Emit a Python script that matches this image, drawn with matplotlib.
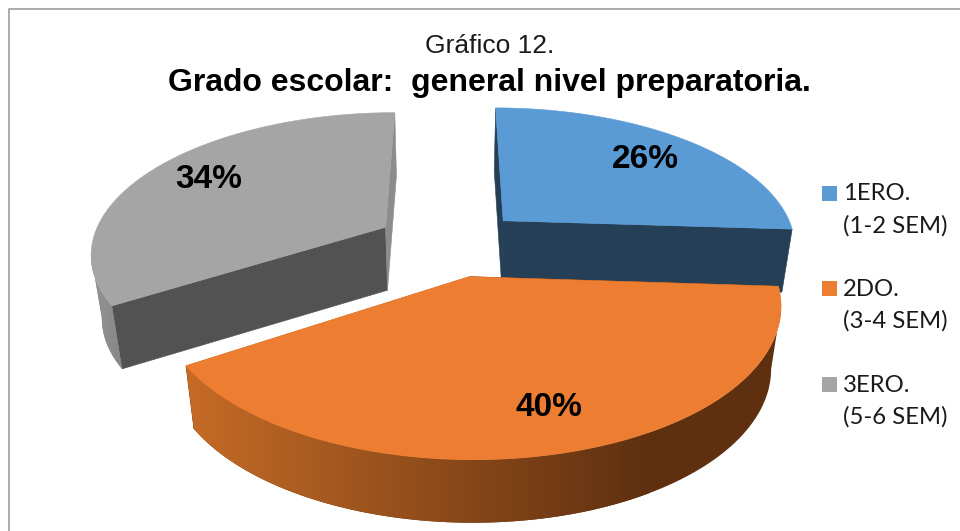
import numpy as np
import matplotlib
matplotlib.use('Agg')
import matplotlib.pyplot as plt
from matplotlib.patches import Polygon, Rectangle
from matplotlib.colors import LinearSegmentedColormap

title_top = 'Gráfico 12.'
title_main = 'Grado escolar:  general nivel preparatoria.'
labels = ['1ERO.\n(1-2 SEM)', '2DO.\n(3-4 SEM)', '3ERO.\n(5-6 SEM)']
shares = [26, 40, 34]
colors = ['#5B9BD5', '#EC7D31', '#A5A5A5']

# projection of the tilted pie, in pixels
CX, CY = 450, 243
RX, RY = 294, 139
PERSP = 0.17
EXPLODE_X = 0.255
EXPLODE_Y = 0.24
DEPTH = 63
SHRINK = 0.03


def project(u, v, down=False):
	s = 1 / (1 - PERSP * v)
	x = CX + RX * u * s
	y = CY + RY * v * s
	if down:
		x = x + (CX - x) * SHRINK
		y = y + DEPTH
	return x, y


def poly(ax, xs, ys, color, z):
	p = Polygon(np.column_stack([xs, ys]), closed=True, fc=color, ec=color, lw=0.4, zorder=z)
	ax.add_patch(p)
	return p


def draw_slice(ax, start, end, top, wall, z, shade=None):
	mid = np.radians((start + end) / 2)
	ou, ov = EXPLODE_X * np.sin(mid), -EXPLODE_Y * np.cos(mid)
	t = np.radians(np.linspace(start, end, 160))
	u = ou + np.sin(t)
	v = ov - np.cos(t)
	ax0, ay0 = project(ou, ov)
	ax1, ay1 = project(ou, ov, down=True)
	tx, ty = project(u, v)
	bx, by = project(u, v, down=True)
	# radial walls
	poly(ax, [ax0, tx[0], bx[0], ax1], [ay0, ty[0], by[0], ay1], wall[0], z)
	poly(ax, [ax0, tx[-1], bx[-1], ax1], [ay0, ty[-1], by[-1], ay1], wall[1], z + 0.1)
	# outer wall, only the part of the rim that faces the viewer (rim moving left)
	front = np.nonzero(np.diff(tx) < 0)[0]
	if len(front) > 0:
		i0, i1 = front[0], front[-1] + 1
		rx, ry = tx[i0:i1 + 1], ty[i0:i1 + 1]
		lx, ly = bx[i0:i1 + 1], by[i0:i1 + 1]
		p = poly(ax, np.r_[rx, lx[::-1]], np.r_[ry, ly[::-1]], wall[2], z + 0.2)
		if shade is not None:
			x0, x1, c0, c1 = shade
			cmap = LinearSegmentedColormap.from_list('wall', [c0, c1])
			im = ax.imshow(np.linspace(0, 1, 256).reshape(1, -1), cmap=cmap, aspect='auto',
				extent=(x0, x1, 531, 0), zorder=z + 0.25)
			im.set_clip_path(p)
			# right of the gradient the wall stays at the dark colour
			p.set_facecolor(c1)
			p.set_edgecolor('none')
	poly(ax, np.r_[ax0, tx], np.r_[ay0, ty], top, z + 0.3)


fig = plt.figure(figsize=(9.6, 5.31), dpi=100)
ax = fig.add_axes([0, 0, 1, 1])

# chart frame
ax.plot([9, 9, 960], [531, 9, 9], color='#A6A6A6', lw=1.3, zorder=1)

angles = np.cumsum([0] + shares) * 3.6

draw_slice(ax, angles[2], angles[3], colors[2], ('#525252', '#8C8C8C', '#858585'), 2,
	shade=(80, 125, '#9A9A9A', '#858585'))
draw_slice(ax, angles[0], angles[1], colors[0], ('#243F56', '#243F56', '#243F56'), 3)
draw_slice(ax, angles[1], angles[2], colors[1], ('#5E3010', '#C86C26', '#5E3010'), 4,
	shade=(170, 650, '#C96D27', '#5E3010'))

ax.set_xlim(0, 960)
ax.set_ylim(531, 0)
ax.axis('off')

# percent labels
pct_pos = [(645, 159), (549, 407), (209, 179)]
for s, (px, py) in zip(shares, pct_pos):
	ax.text(px, py, '%d%%' % s, ha='center', va='center', fontsize=24, fontweight='bold',
		family='Liberation Sans', color='black', zorder=10)

ax.text(490, 46, title_top, ha='center', va='center', fontsize=19, family='Liberation Sans', color='#1a1a1a')
ax.text(489, 83, title_main, ha='center', va='center', fontsize=23, fontweight='bold', family='Liberation Sans', color='black')

# legend
leg_y = [194, 289, 385]
for lab, col, ly in zip(labels, colors, leg_y):
	ax.add_patch(Rectangle((822, ly - 8), 15, 15, fc=col, ec='none', zorder=5))
	first, second = lab.split('\n')
	ax.text(843, ly, first, ha='left', va='center', fontsize=17.2, family='Lato', color='#1a1a1a')
	ax.text(843, ly + 32, second, ha='left', va='center', fontsize=17.2, family='Lato', color='#1a1a1a')

fig.savefig('out.png', dpi=100)
